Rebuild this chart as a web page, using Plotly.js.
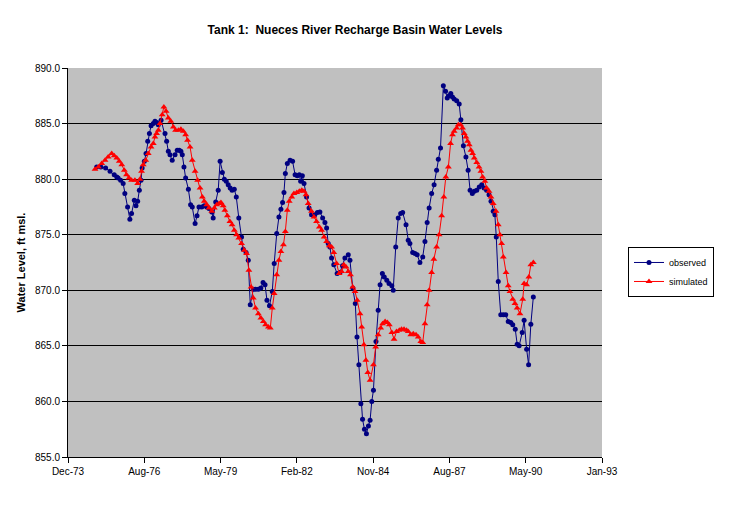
<!DOCTYPE html>
<html>
<head>
<meta charset="utf-8">
<script src="https://cdn.plot.ly/plotly-3.0.1.min.js"></script>
<style>
html,body{margin:0;padding:0;background:#fff;}
#chart{width:730px;height:523px;}
</style>
</head>
<body>
<div id="chart"></div>
<script>
// Observed water levels: time in decimal years, level in ft msl
const obsYear = [1974.95,1975.10,1975.27,1975.43,1975.58,1975.67,1975.72,1975.81,1975.90,1975.96,
1976.06,1976.14,1976.20,1976.30,1976.36,1976.42,1976.48,1976.54,1976.58,1976.66,1976.72,1976.78,1976.84,1976.90,1976.98,
1977.04,1977.10,1977.16,1977.26,1977.40,1977.46,1977.52,1977.58,1977.66,1977.76,1977.84,1977.91,1977.97,
1978.02,1978.08,1978.14,1978.24,1978.32,1978.38,1978.48,1978.55,1978.62,1978.72,1978.81,1978.90,1978.98,
1979.08,1979.13,1979.22,1979.31,1979.38,1979.46,1979.53,1979.60,1979.67,1979.74,1979.81,1979.89,1979.96,
1980.05,1980.15,1980.21,1980.31,1980.39,1980.46,1980.57,1980.65,1980.75,1980.84,1980.92,1980.99,
1981.06,1981.15,1981.25,1981.32,1981.41,1981.49,1981.56,1981.62,1981.67,1981.72,1981.79,1981.89,1981.98,
1982.07,1982.15,1982.22,1982.27,1982.33,1982.39,1982.48,1982.57,1982.66,1982.78,1982.87,1982.96,
1983.06,1983.14,1983.20,1983.26,1983.32,1983.38,1983.46,1983.58,1983.68,1983.77,1983.86,1983.98,
1984.04,1984.14,1984.23,1984.29,1984.36,1984.43,1984.49,1984.56,1984.63,1984.70,1984.76,1984.82,1984.88,1984.97,
1985.05,1985.12,1985.20,1985.27,1985.36,1985.44,1985.54,1985.59,1985.68,1985.77,1985.86,1985.93,
1986.05,1986.13,1986.19,1986.29,1986.37,1986.45,1986.55,1986.65,1986.73,1986.81,1986.88,1986.97,
1987.06,1987.15,1987.21,1987.29,1987.39,1987.47,1987.53,1987.60,1987.66,1987.72,1987.78,1987.87,1987.96,
1988.02,1988.11,1988.20,1988.28,1988.35,1988.43,1988.50,1988.59,1988.68,1988.77,1988.85,1988.94,
1989.03,1989.10,1989.18,1989.24,1989.29,1989.36,1989.45,1989.54,1989.63,1989.72,1989.81,1989.88,1989.97,
1990.04,1990.11,1990.22,1990.29,1990.38,1990.45,1990.53,1990.62];
const obsLevel = [881.1,881.1,881.0,880.7,880.4,880.2,880.1,879.9,879.6,878.7,
877.5,876.4,876.9,878.1,877.6,878.0,879.0,879.9,881.0,881.6,882.3,883.4,884.1,884.8,885.0,
885.2,885.1,884.9,885.3,884.1,883.4,882.5,882.2,881.7,882.2,882.6,882.6,882.5,
882.2,881.1,880.1,879.1,877.7,877.5,876.0,876.7,877.5,877.5,877.6,877.5,877.35,
877.05,876.5,877.95,879.0,881.6,880.6,880.0,879.8,879.5,879.2,879.0,879.1,878.4,
876.5,874.8,873.7,873.4,872.7,868.7,870.1,870.1,870.1,870.2,870.7,870.5,
869.1,868.6,869.9,872.4,875.1,876.6,877.3,877.9,878.8,880.5,881.4,881.7,881.6,
880.4,880.3,880.4,879.8,880.3,879.6,878.4,877.4,876.8,876.8,877.0,877.05,
876.5,876.1,875.6,874.2,873.9,872.9,872.3,871.5,871.6,872.2,872.9,873.2,
872.7,870.2,868.8,865.8,863.3,859.8,858.4,857.5,857.1,857.8,858.3,860.0,861.0,865.4,
868.2,870.5,871.5,871.2,870.9,870.6,870.4,870.0,873.9,876.5,876.9,877.0,
875.9,874.5,874.2,873.4,873.3,873.2,872.5,873.0,874.4,876.1,877.4,878.7,
879.5,880.8,881.8,882.8,888.4,887.9,887.3,887.5,887.7,887.4,887.2,887.05,886.75,
885.35,883.0,882.0,880.8,879.0,878.7,878.9,879.0,879.3,879.5,879.2,879.0,
878.6,878.0,877.1,876.8,874.8,870.8,867.8,867.8,867.8,867.2,867.1,866.9,866.5,
865.15,865.0,866.2,867.3,864.7,863.3,866.95,869.4];

// Simulated water levels
const simYear = [1974.89,1975.01,1975.13,1975.25,1975.36,1975.49,1975.58,1975.67,1975.76,1975.85,1975.94,
1976.02,1976.11,1976.20,1976.32,1976.42,1976.50,1976.56,1976.62,1976.71,1976.80,1976.90,1976.98,
1977.04,1977.10,1977.16,1977.22,1977.30,1977.36,1977.44,1977.52,1977.61,1977.70,1977.78,1977.88,1977.97,
1978.06,1978.14,1978.21,1978.30,1978.38,1978.48,1978.57,1978.66,1978.74,1978.81,1978.90,1978.98,
1979.08,1979.17,1979.26,1979.34,1979.41,1979.49,1979.55,1979.64,1979.73,1979.81,1979.89,1979.97,
1980.05,1980.15,1980.25,1980.33,1980.41,1980.49,1980.57,1980.65,1980.75,1980.84,1980.93,
1981.01,1981.11,1981.18,1981.25,1981.32,1981.41,1981.49,1981.56,1981.65,1981.72,1981.79,1981.86,1981.95,
1982.03,1982.13,1982.22,1982.31,1982.39,1982.46,1982.54,1982.66,1982.75,1982.84,1982.94,
1983.02,1983.11,1983.20,1983.30,1983.38,1983.46,1983.56,1983.65,1983.74,1983.82,1983.90,1983.98,
1984.06,1984.14,1984.22,1984.30,1984.40,1984.46,1984.54,1984.61,1984.68,1984.76,1984.88,1984.96,
1985.05,1985.14,1985.21,1985.30,1985.38,1985.45,1985.54,1985.62,1985.71,1985.81,1985.89,1985.98,
1986.07,1986.13,1986.22,1986.31,1986.41,1986.49,1986.58,1986.65,1986.73,1986.81,1986.88,1986.97,
1987.05,1987.15,1987.24,1987.33,1987.41,1987.48,1987.57,1987.65,1987.72,1987.78,1987.87,1987.93,
1988.01,1988.08,1988.14,1988.20,1988.26,1988.32,1988.38,1988.44,1988.50,1988.59,1988.67,1988.74,1988.80,1988.88,1988.94,
1989.03,1989.10,1989.18,1989.28,1989.36,1989.42,1989.48,1989.54,1989.64,1989.72,1989.78,1989.88,1989.96,
1990.04,1990.14,1990.24,1990.29,1990.38,1990.46,1990.53,1990.62];
const simLevel = [880.9,881.1,881.4,881.7,882.0,882.3,882.1,881.9,881.6,881.3,880.8,
880.4,880.1,879.9,879.9,879.6,880.0,880.7,881.3,881.7,882.3,882.9,883.2,
883.8,884.1,884.4,885.0,885.8,886.5,886.1,885.5,885.2,884.7,884.4,884.4,884.5,
884.3,884.0,883.5,882.9,881.7,880.7,879.9,879.2,878.4,878.0,877.7,877.4,
877.1,877.4,877.7,877.8,877.9,877.6,877.2,876.7,876.2,875.9,875.4,875.0,
874.7,874.2,873.6,873.3,871.8,870.3,869.3,868.4,867.9,867.5,867.2,
866.9,866.7,866.6,868.4,869.7,871.4,872.7,873.5,874.1,875.3,877.2,878.0,878.4,
878.7,878.8,878.9,879.0,878.9,878.6,877.8,877.1,876.6,876.2,875.7,
875.4,874.8,874.4,874.0,873.9,873.4,872.4,871.5,871.7,872.3,872.1,871.7,
871.4,870.3,869.9,869.1,867.9,866.7,865.1,863.7,862.6,861.9,863.3,864.9,
866.0,866.6,867.0,867.2,867.1,866.9,866.2,865.6,866.3,866.4,866.5,866.5,
866.4,866.3,866.0,866.1,866.0,865.8,865.4,865.3,867.0,868.7,870.0,871.6,
872.8,873.9,875.0,876.7,878.4,880.2,881.1,883.2,884.0,884.3,884.6,884.9,
884.9,884.6,884.1,883.8,883.4,883.1,882.6,882.3,881.9,881.5,881.1,880.7,880.2,879.8,879.2,
878.9,878.4,877.8,877.1,875.9,875.0,874.2,873.0,871.6,870.4,869.9,869.2,868.8,
868.4,867.9,869.2,870.6,870.5,871.2,872.3,872.5];

const xTickLabels = ['Dec-73','Aug-76','May-79','Feb-82','Nov-84','Aug-87','May-90','Jan-93'];
const seriesNames = ['observed','simulated'];

function yearToDate(y){
  const yr = Math.floor(y);
  const s = Date.UTC(yr,0,1), e = Date.UTC(yr+1,0,1);
  return new Date(s + (y-yr)*(e-s)).toISOString().slice(0,10);
}
const DAY = 864e5;
const base = Date.UTC(1973,11,2);
const tickVals = xTickLabels.map((_,i)=>new Date(base + i*1000*DAY).toISOString().slice(0,10));
const xRange = [tickVals[0], tickVals[tickVals.length-1]];

const traces = [
  {x: obsYear.map(yearToDate), y: obsLevel, name: seriesNames[0], type:'scatter', mode:'lines+markers',
   line:{color:'#000080', width:1}, marker:{color:'#000080', size:5, symbol:'circle'}},
  {x: simYear.map(yearToDate), y: simLevel, name: seriesNames[1], type:'scatter', mode:'lines+markers',
   line:{color:'#FF0000', width:1}, marker:{color:'#FF0000', size:6, symbol:'triangle-up'}}
];

const layout = {
  width:730, height:523,
  margin:{l:68, r:128, t:68, b:66},
  paper_bgcolor:'#ffffff', plot_bgcolor:'#c0c0c0',
  font:{family:'Liberation Sans, Arial, sans-serif', size:10, color:'#000'},
  title:{text:'<b>Tank 1:  Nueces River Recharge Basin Water Levels</b>', x:355/730, xref:'container', xanchor:'center',
         y:1-30/523, yref:'container', yanchor:'middle', font:{size:12, color:'#000'}},
  xaxis:{type:'date', range:xRange, tickmode:'array', tickvals:tickVals, ticktext:xTickLabels,
         ticks:'outside', ticklen:5, tickcolor:'#000', showline:true, linecolor:'#000', linewidth:1,
         showgrid:false, zeroline:false, tickfont:{size:10}},
  yaxis:{range:[855,890], dtick:5, tick0:855, tickformat:'.1f', ticks:'outside', ticklen:5, tickcolor:'#000',
         showline:true, linecolor:'#000', linewidth:1, showgrid:true, gridcolor:'#000', gridwidth:1,
         zeroline:false, tickfont:{size:10},
         title:{text:'<b>Water Level, ft msl.</b>', font:{size:11}, standoff:7}},
  showlegend:true,
  legend:{x:(628-68)/534, xanchor:'left', y:(456.7-247)/388.4, yanchor:'top', bgcolor:'#fff',
          bordercolor:'#000', borderwidth:1, font:{size:9}, tracegroupgap:0, itemwidth:30}
};

Plotly.newPlot('chart', traces, layout, {displayModeBar:false, staticPlot:true});
</script>
</body>
</html>
